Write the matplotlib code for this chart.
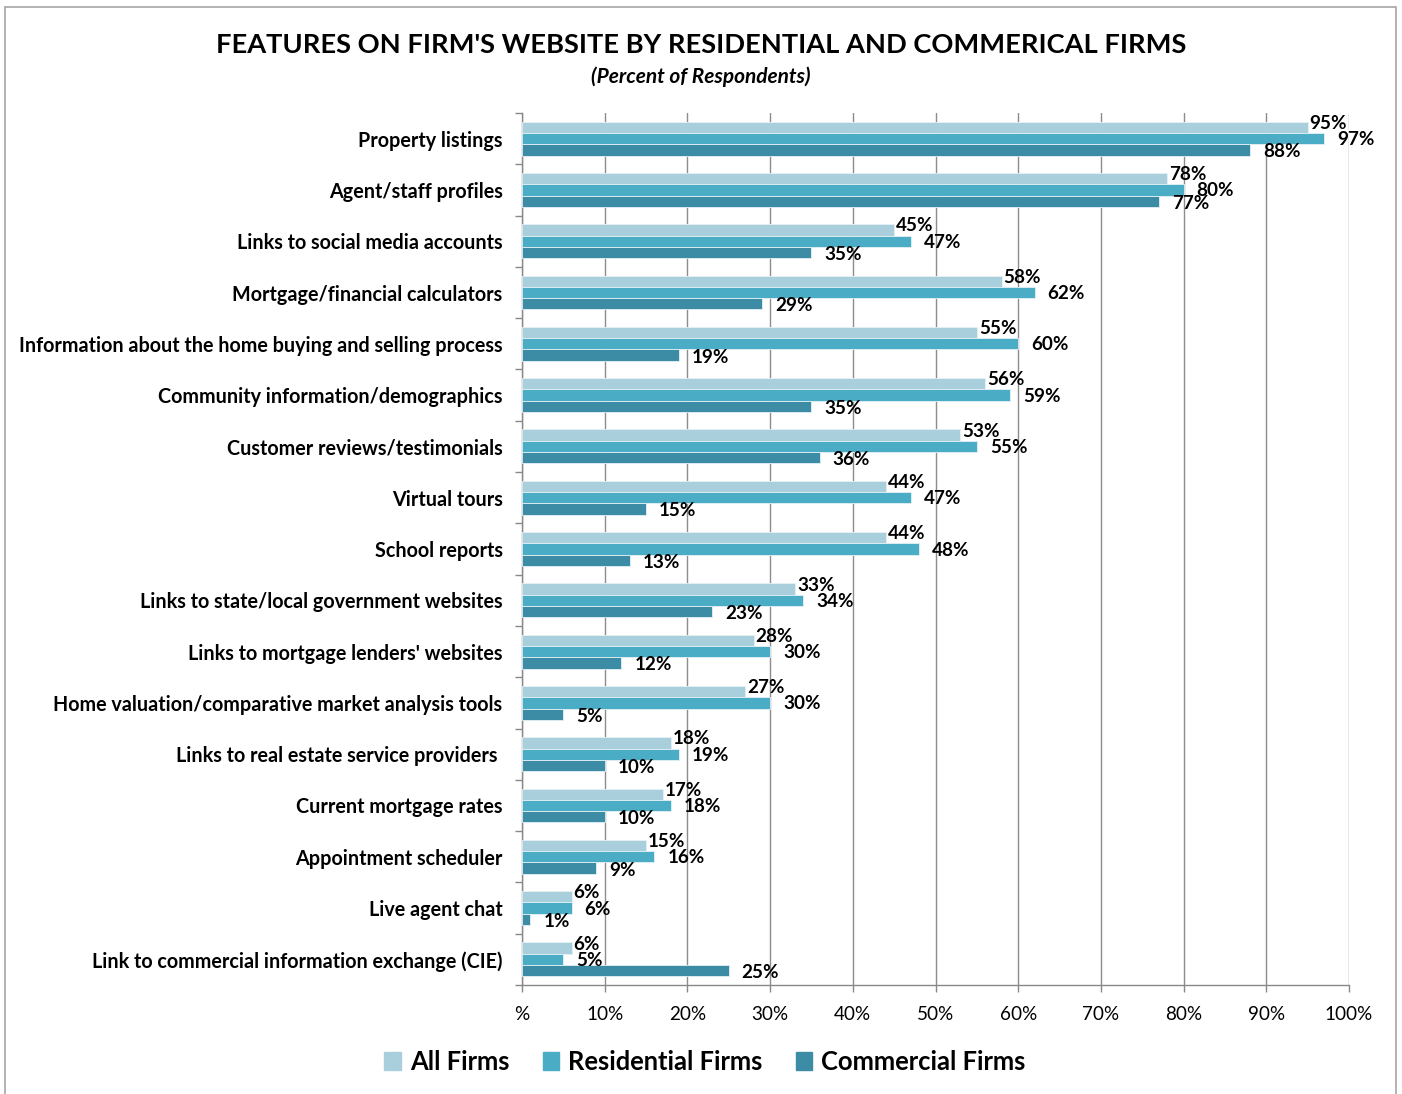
import matplotlib
matplotlib.use('Agg')
import matplotlib.pyplot as plt
import matplotlib.patches as mpatches
import numpy as np

plt.rcParams['font.family'] = ['Lato', 'DejaVu Sans']

# features, listed top to bottom
features = [
    'Property listings',
    'Agent/staff profiles',
    'Links to social media accounts',
    'Mortgage/financial calculators',
    'Information about the home buying and selling process',
    'Community information/demographics',
    'Customer reviews/testimonials',
    'Virtual tours',
    'School reports',
    'Links to state/local government websites',
    "Links to mortgage lenders' websites",
    'Home valuation/comparative market analysis tools',
    'Links to real estate service providers ',
    'Current mortgage rates',
    'Appointment scheduler',
    'Live agent chat',
    'Link to commercial information exchange (CIE)',
]

all_firms = [95, 78, 45, 58, 55, 56, 53, 44, 44, 33, 28, 27, 18, 17, 15, 6, 6]
residential = [97, 80, 47, 62, 60, 59, 55, 47, 48, 34, 30, 30, 19, 18, 16, 6, 5]
commercial = [88, 77, 35, 29, 19, 35, 36, 15, 13, 23, 12, 5, 10, 10, 9, 1, 25]

series_names = ['All Firms', 'Residential Firms', 'Commercial Firms']
series_colors = ['#a9cfdd', '#4bacc6', '#3c8ca5']

x_ticks = [0, 10, 20, 30, 40, 50, 60, 70, 80, 90, 100]
x_tick_labels = ['%', '10%', '20%', '30%', '40%', '50%', '60%', '70%', '80%', '90%', '100%']

W, H = 1402, 1094
fig = plt.figure(figsize=(W / 100, H / 100), dpi=100)
ax = fig.add_axes([522 / W, 1 - 985 / H, (1349 - 522) / W, (985 - 113) / H])

y = np.arange(len(features))
h = 0.22
series = [all_firms, residential, commercial]
offsets = [-h, 0, h]
# label offsets in pixels (dx, dy) for each series
label_off = [(2, 4), (13, -1), (13, -2)]

for vals, off, color, name, lo in zip(series, offsets, series_colors, series_names, label_off):
    bars = ax.barh(y + off, vals, height=h, color=color, edgecolor='#e4f1f5',
                   linewidth=0.6, label=name, zorder=3)
    for b, v in zip(bars, vals):
        ax.annotate(f'{v}%', xy=(b.get_width(), b.get_y() + b.get_height() / 2),
                    xytext=lo, textcoords='offset pixels', ha='left', va='center',
                    fontsize=13.6, fontweight='bold', color='black', zorder=5)

ax.set_xlim(0, 100)
ax.set_ylim(len(features) - 0.5, -0.5)
ax.set_xticks(x_ticks)
ax.set_xticklabels(x_tick_labels, fontsize=13.6)
ax.set_yticks(y)
ax.set_yticklabels(features, fontsize=14.2, fontweight='bold')
ax.set_yticks(np.arange(-0.5, len(features)), minor=True)

ax.tick_params(axis='y', which='major', length=0, pad=14)
ax.tick_params(axis='y', which='minor', length=5, width=1, color='#888888', direction='out')
ax.tick_params(axis='x', length=5, width=1, color='#888888', direction='out', pad=10)

ax.grid(axis='x', color='#8c8c8c', linewidth=1, zorder=0)
for side in ['top', 'right']:
    ax.spines[side].set_visible(False)
for side in ['left', 'bottom']:
    ax.spines[side].set_color('#888888')
    ax.spines[side].set_linewidth(1)

fig.text(0.5, 1 - 45 / H, "FEATURES ON FIRM'S WEBSITE BY RESIDENTIAL AND COMMERICAL FIRMS",
         ha='center', va='center', fontsize=19.6, fontweight='bold')
fig.text(0.5, 1 - 77 / H, '(Percent of Respondents)', ha='center', va='center',
         fontsize=15, fontweight='bold', fontstyle='italic')

handles = [mpatches.Patch(color=c, label=n) for c, n in zip(series_colors, series_names)]
fig.legend(handles=handles, loc='center', bbox_to_anchor=(705 / W, 1 - 1062 / H), ncol=3,
           frameon=False, prop={'size': 18.4, 'weight': 'bold'},
           handlelength=0.65, handleheight=0.65, handletextpad=0.35, columnspacing=1.3)

# outer chart frame
fig.patches.append(mpatches.Rectangle((5 / W, -0.01), 1391 / W, 1 - 7 / H + 0.01,
                                      transform=fig.transFigure, fill=False,
                                      edgecolor='#a6a6a6', linewidth=1.2))

fig.savefig('out.png', dpi=100)
